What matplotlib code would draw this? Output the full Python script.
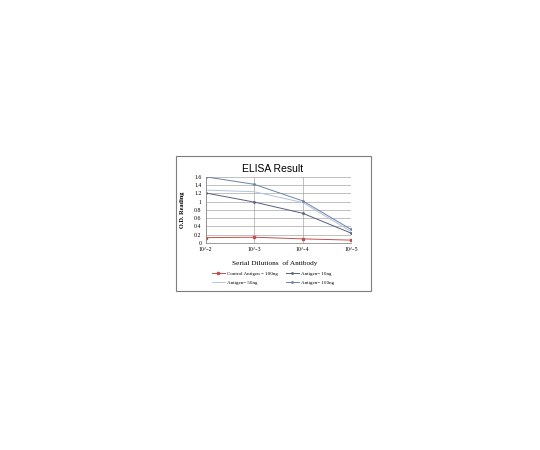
import matplotlib
matplotlib.use("Agg")
import matplotlib.pyplot as plt
from matplotlib.patches import Rectangle

dilutions = ["10^-2", "10^-3", "10^-4", "10^-5"]
control = [0.13, 0.14, 0.10, 0.07]
ag10 = [1.21, 0.99, 0.72, 0.24]
ag50 = [1.28, 1.24, 0.98, 0.28]
ag100 = [1.60, 1.42, 1.02, 0.33]
yticks = [0, 0.2, 0.4, 0.6, 0.8, 1, 1.2, 1.4, 1.6]

plt.rcParams["text.parse_math"] = False
fig = plt.figure(figsize=(5.4, 4.5), dpi=100)
fig.patch.set_facecolor("white")

# outer chart frame
fig.patches.append(Rectangle((0.326, 0.353), 0.361, 0.300, transform=fig.transFigure,
                             fill=False, edgecolor="#7f7f7f", linewidth=0.8))

ax = fig.add_axes([0.381, 0.460, 0.269, 0.147])
x = list(range(len(dilutions)))
serif = "Liberation Serif"

h_c, = ax.plot(x, control, color="#c0504d", lw=0.7, marker="s", ms=1.8, label="Control Antigen = 100ng")
h_10, = ax.plot(x, ag10, color="#56617a", lw=0.7, marker="o", ms=1.0, label="Antigen= 10ng")
h_50, = ax.plot(x, ag50, color="#b4c4dc", lw=0.7, label="Antigen= 50ng")
h_100, = ax.plot(x, ag100, color="#6d82a6", lw=0.7, marker="o", ms=1.0, label="Antigen= 100ng")

ax.set_xlim(0, 3)
ax.set_ylim(0, 1.6)
ax.set_xticks(x)
ax.set_xticklabels(dilutions, fontfamily=serif, fontsize=4.2)
ax.set_yticks(yticks)
ax.set_yticklabels([f"{v:g}" for v in yticks], fontfamily=serif, fontsize=4.2)
ax.tick_params(length=0, pad=3)
ax.grid(True, color="#a6a6a6", lw=0.5)
ax.set_axisbelow(True)
for s in ["top", "right"]:
    ax.spines[s].set_visible(False)
for s in ["left", "bottom"]:
    ax.spines[s].set_color("#8c8c8c")
    ax.spines[s].set_linewidth(0.6)

fig.text(0.505, 0.625, "ELISA Result", ha="center", va="center",
         fontfamily="Liberation Sans", fontsize=7.5)
fig.text(0.338, 0.533, "O.D. Reading", rotation=90, ha="center", va="center",
         fontfamily=serif, fontsize=4.5, fontweight="bold")
fig.text(0.508, 0.415, "Serial Dilutions  of Antibody", ha="center", va="center",
         fontfamily=serif, fontsize=5.2)

handles = [h_c, h_50, h_10, h_100]
fig.legend(handles, [h.get_label() for h in handles], loc="center",
           bbox_to_anchor=(0.505, 0.382), ncol=2, frameon=False,
           prop={"family": serif, "size": 3.6}, handlelength=2.6,
           columnspacing=1.6, labelspacing=0.9, handletextpad=0.4)

fig.savefig("out.png", dpi=100)
